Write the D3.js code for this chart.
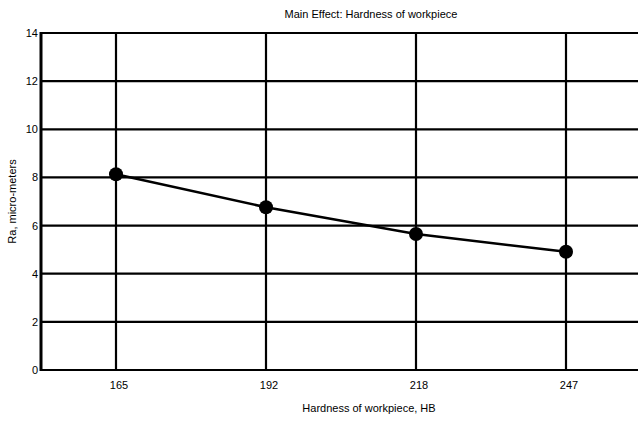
<!DOCTYPE html>
<html>
<head>
<meta charset="utf-8">
<script src="https://cdn.jsdelivr.net/npm/d3@7"></script>
<style>
  body { margin: 0; background: #fff; }
  text { font-family: "Liberation Sans", Arial, sans-serif; fill: #000; }
</style>
</head>
<body>
<div id="chart"></div>
<script>
// data
var hardness = ["165", "192", "218", "247"];
var ra = [8.13, 6.76, 5.65, 4.91];
var yTicks = [0, 2, 4, 6, 8, 10, 12, 14];

var width = 638, height = 422;
var margin = { top: 33, right: -3, bottom: 52, left: 41 };

var svg = d3.select("#chart")
  .append("svg")
  .attr("width", width)
  .attr("height", height);

var x = d3.scalePoint()
  .domain(hardness)
  .range([margin.left, width - margin.right])
  .padding(0.5);

var y = d3.scaleLinear()
  .domain([0, 14])
  .range([height - margin.bottom, margin.top]);

// horizontal grid
svg.append("g")
  .selectAll("line")
  .data(yTicks)
  .enter().append("line")
  .attr("x1", margin.left)
  .attr("x2", width)
  .attr("y1", function (d) { return y(d); })
  .attr("y2", function (d) { return y(d); })
  .attr("stroke", "#000")
  .attr("stroke-width", 2.2);

// vertical grid
svg.append("g")
  .selectAll("line")
  .data(hardness)
  .enter().append("line")
  .attr("x1", function (d) { return x(d); })
  .attr("x2", function (d) { return x(d); })
  .attr("y1", y(14))
  .attr("y2", y(0))
  .attr("stroke", "#000")
  .attr("stroke-width", 2.2);

// left axis line
svg.append("line")
  .attr("x1", margin.left).attr("x2", margin.left)
  .attr("y1", y(14) - 1).attr("y2", y(0) + 1)
  .attr("stroke", "#000")
  .attr("stroke-width", 3);

// y tick labels
svg.append("g")
  .selectAll("text")
  .data(yTicks)
  .enter().append("text")
  .attr("x", margin.left - 3)
  .attr("y", function (d) { return y(d) + 4; })
  .attr("text-anchor", "end")
  .style("font-size", "11px")
  .text(function (d) { return d; });

// x tick labels
svg.append("g")
  .selectAll("text")
  .data(hardness)
  .enter().append("text")
  .attr("x", function (d) { return x(d) + 3; })
  .attr("y", y(0) + 19)
  .attr("text-anchor", "middle")
  .style("font-size", "11px")
  .text(function (d) { return d; });

// line
var line = d3.line()
  .x(function (d, i) { return x(hardness[i]); })
  .y(function (d) { return y(d); });

svg.append("path")
  .datum(ra)
  .attr("d", line)
  .attr("fill", "none")
  .attr("stroke", "#000")
  .attr("stroke-width", 2.5);

svg.append("g")
  .selectAll("circle")
  .data(ra)
  .enter().append("circle")
  .attr("cx", function (d, i) { return x(hardness[i]); })
  .attr("cy", function (d) { return y(d); })
  .attr("r", 7)
  .attr("fill", "#000");

// titles
svg.append("text")
  .attr("x", 371)
  .attr("y", 18)
  .attr("text-anchor", "middle")
  .style("font-size", "11px")
  .text("Main Effect: Hardness of workpiece");

svg.append("text")
  .attr("x", 369)
  .attr("y", 412)
  .attr("text-anchor", "middle")
  .style("font-size", "11px")
  .text("Hardness of workpiece, HB");

svg.append("text")
  .attr("transform", "translate(16," + ((y(0) + y(14)) / 2) + ") rotate(-90)")
  .attr("text-anchor", "middle")
  .style("font-size", "11px")
  .text("Ra, micro-meters");
</script>
</body>
</html>
